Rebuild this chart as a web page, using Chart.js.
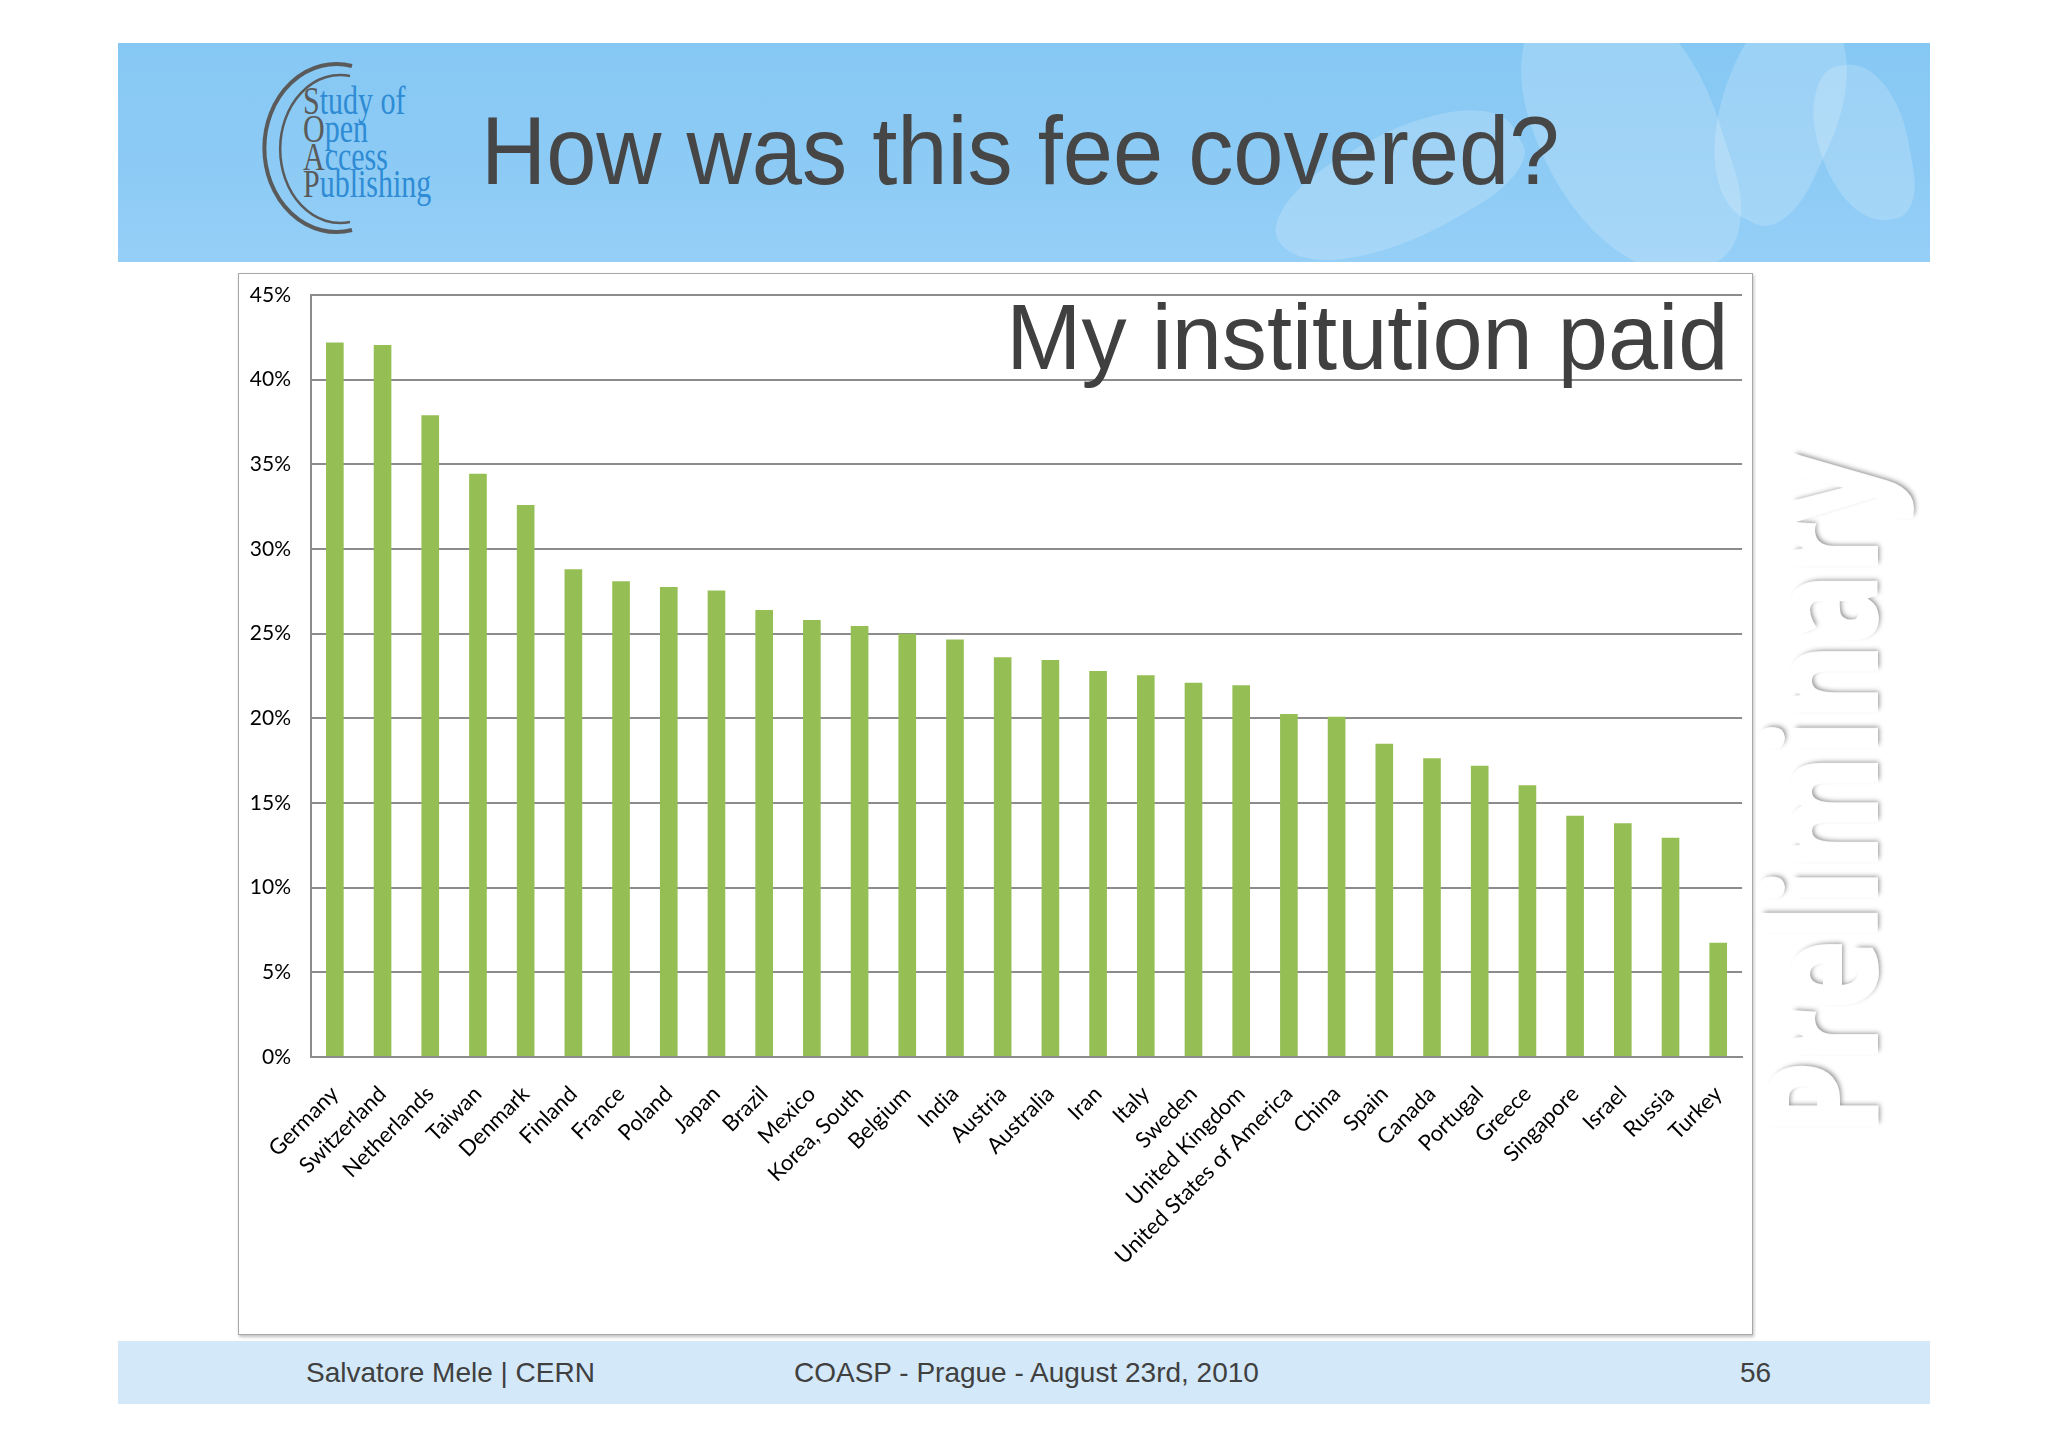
<!DOCTYPE html>
<html>
<head>
<meta charset="utf-8">
<script src="https://cdn.jsdelivr.net/npm/chart.js@4.4.1/dist/chart.umd.min.js"></script>
<style>
    html, body { margin: 0; padding: 0; background: #fff; }
    body { width: 2048px; height: 1447px; position: relative; overflow: hidden; font-family: "Liberation Sans", Arial, sans-serif; }
    .banner { position: absolute; left: 118px; top: 43px; width: 1812px; height: 219px;
        background: linear-gradient(180deg, #86c8f4 0%, #8dcbf5 60%, #95cff7 100%); overflow: hidden; }
    .swirl { position: absolute; background: rgba(255,255,255,0.18); border-radius: 40% 60% 30% 70%; }
    .title { position: absolute; left: 481px; top: 103px; font-size: 96px; line-height: 1; color: #464646;
        white-space: nowrap; transform: scaleX(0.94); transform-origin: left top; }
    .frame { position: absolute; left: 238px; top: 273px; width: 1513px; height: 1060px;
        border: 1px solid #a8a8a8; box-shadow: 1px 2px 3px rgba(0,0,0,0.25); background: #fff; }
    #chartCanvas { position: absolute; left: 238px; top: 273px; }
    .subtitle { position: absolute; right: 320px; top: 291px; font-size: 93px; line-height: 1; color: #404040;
        white-space: nowrap; transform: scaleX(0.97); transform-origin: right top; }
    .prelim { position: absolute; left: 1818px; top: 795px; font-family: "Open Sans", Lato, sans-serif;
        font-weight: 700; font-size: 150px; line-height: 1; color: #fff; white-space: nowrap;
        -webkit-text-stroke: 4px #fff; text-shadow: 3px 3px 6px rgba(0,0,0,0.45); }
    .footer { position: absolute; left: 118px; top: 1341px; width: 1812px; height: 63px; background: #d3e8f8; }
    .foot { position: absolute; top: 1359px; font-size: 28px; line-height: 1; color: #404040; white-space: nowrap; }
</style>
</head>
<body>
<div class="banner">
    <div class="swirl" style="left:1420px; top:-60px; width:180px; height:300px; transform: rotate(-18deg);"></div>
    <div class="swirl" style="left:1600px; top:-40px; width:120px; height:220px; transform: rotate(25deg);"></div>
    <div class="swirl" style="left:1150px; top:90px; width:260px; height:110px; transform: rotate(-30deg);"></div>
    <div class="swirl" style="left:1700px; top:20px; width:90px; height:160px; transform: rotate(-10deg);"></div>
</div>

<svg style="position:absolute; left:250px; top:58px;" width="200" height="185" viewBox="250 58 200 185">
    <path d="M 352 66 A 72 84 0 1 0 352 230" fill="none" stroke="#5a5a5a" stroke-width="4"/>
    <path d="M 350 76 A 60 74 0 1 0 350 222" fill="none" stroke="#5a5a5a" stroke-width="2.5"/>
    <g font-family="Liberation Serif, serif" font-size="40" transform="scale(0.75,1)">
        <text x="404" y="114"><tspan fill="#5a5a5a">S</tspan><tspan fill="#2e8bd4">tudy of</tspan></text>
        <text x="404" y="142"><tspan fill="#5a5a5a">O</tspan><tspan fill="#2e8bd4">pen</tspan></text>
        <text x="404" y="170"><tspan fill="#5a5a5a">A</tspan><tspan fill="#2e8bd4">ccess</tspan></text>
        <text x="404" y="197"><tspan fill="#5a5a5a">P</tspan><tspan fill="#2e8bd4">ublishing</tspan></text>
    </g>
</svg>

<div class="title">How was this fee covered?</div>

<div class="frame"></div>
<canvas id="chartCanvas" width="1515" height="1062"></canvas>
<div class="subtitle">My institution paid</div>

<div class="prelim" id="prelim">Preliminary</div>

<div class="footer"></div>
<div class="foot" style="left:306px;">Salvatore Mele | CERN</div>
<div class="foot" style="left:794px;">COASP - Prague - August 23rd, 2010</div>
<div class="foot" style="left:1740px;">56</div>

<script>
const countries = [
    'Germany', 'Switzerland', 'Netherlands', 'Taiwan', 'Denmark', 'Finland', 'France', 'Poland',
    'Japan', 'Brazil', 'Mexico', 'Korea, South', 'Belgium', 'India', 'Austria', 'Australia',
    'Iran', 'Italy', 'Sweden', 'United Kingdom', 'United States of America', 'China', 'Spain',
    'Canada', 'Portugal', 'Greece', 'Singapore', 'Israel', 'Russia', 'Turkey'
];
// share of respondents (%) whose institution paid the fee
const institutionPaid = [
    42.2, 42.05, 37.9, 34.45, 32.6, 28.8, 28.1, 27.75,
    27.55, 26.4, 25.8, 25.45, 25.0, 24.65, 23.6, 23.45,
    22.8, 22.55, 22.1, 21.95, 20.25, 20.1, 18.5,
    17.65, 17.2, 16.05, 14.25, 13.8, 12.95, 6.75
];
const yTicks = [0, 5, 10, 15, 20, 25, 30, 35, 40, 45];

const gridColor = '#8c8c8c';

document.addEventListener('DOMContentLoaded', () => {
    fitPreliminary();
    renderChart();
});

function fitPreliminary() {
    const el = document.getElementById('prelim');
    const k = 680 / el.offsetWidth;
    el.style.transform = `translate(-50%, -50%) rotate(-90deg) scaleX(${k})`;
}

function renderChart() {
    const ctx = document.getElementById('chartCanvas').getContext('2d');
    new Chart(ctx, {
        type: 'bar',
        data: {
            labels: countries,
            datasets: [{
                data: institutionPaid,
                backgroundColor: '#95bf54',
                borderWidth: 0,
                categoryPercentage: 1,
                barPercentage: 0.37
            }]
        },
        options: {
            responsive: false,
            devicePixelRatio: 1,
            animation: false,
            layout: { padding: { top: 22, right: 7, left: 0, bottom: 0 } },
            plugins: {
                legend: { display: false },
                title: { display: false },
                tooltip: { enabled: false }
            },
            scales: {
                x: {
                    grid: { display: false },
                    border: { display: true, color: gridColor, width: 2 },
                    ticks: {
                        autoSkip: false,
                        minRotation: 45,
                        maxRotation: 45,
                        padding: 16,
                        color: '#000',
                        font: { family: 'Lato, "Open Sans", sans-serif', size: 22 }
                    },
                    afterFit: (scale) => { scale.height = 278; }
                },
                y: {
                    min: 0,
                    max: 45,
                    afterBuildTicks: (scale) => { scale.ticks = yTicks.map(v => ({ value: v })); },
                    grid: { color: gridColor, lineWidth: 2, drawTicks: false },
                    border: { display: true, color: gridColor, width: 2 },
                    ticks: {
                        padding: 20,
                        color: '#000',
                        font: { family: 'Lato, "Open Sans", sans-serif', size: 21 },
                        callback: (v) => v + '%'
                    },
                    afterFit: (scale) => {
                        scale.width = 73;
                        scale.paddingTop = 0;
                        scale.paddingBottom = 0;
                    }
                }
            }
        }
    });
}
</script>
</body>
</html>
